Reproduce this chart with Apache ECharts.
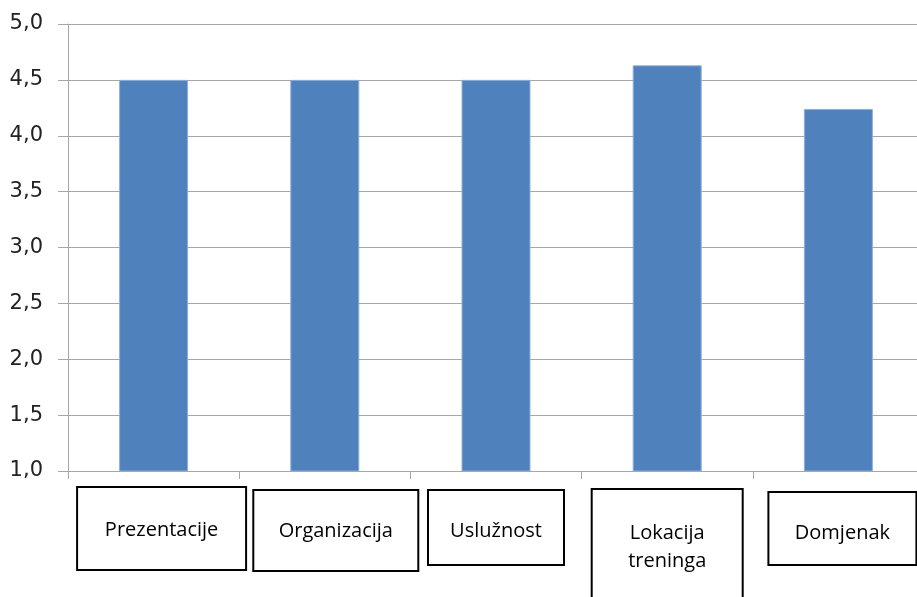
<!DOCTYPE html>
<html>
<head>
<meta charset="utf-8">
<script src="https://cdn.jsdelivr.net/npm/echarts@6/dist/echarts.min.js"></script>
<style>
html,body{margin:0;padding:0;background:#fff;}
#chart{width:917px;height:597px;}
</style>
</head>
<body>
<div id="chart"></div>
<script>
var categories = ['Prezentacije', 'Organizacija', 'Uslužnost', 'Lokacija\ntreninga', 'Domjenak'];
var values = [4.5, 4.5, 4.5, 4.63, 4.24];
var yMin = 1, yMax = 5, yStep = 0.5;

var catFont = '"Open Sans", sans-serif';
function boxStyle(w, lh, pt, pb) {
  return {
    fontFamily: catFont, fontSize: 20, color: '#000',
    width: w, lineHeight: lh, align: 'center',
    padding: [pt, 0, pb, 0],
    borderColor: '#000', borderWidth: 2
  };
}
var richStyles = {
  s0: {width: 16, fontSize: 10, lineHeight: 10},
  s1: {width: 22, fontSize: 10, lineHeight: 10},
  s4: {width: 8, fontSize: 10, lineHeight: 10},
  b0: boxStyle(169, 79, 33, 30),
  b1: boxStyle(165, 83, 31, 30),
  b2: boxStyle(136, 77, 31, 24),
  b4: boxStyle(148, 79, 31, 22)
};

var xData = categories.map(function (c, i) {
  if (i === 3) {
    return {
      value: c,
      textStyle: {
        fontFamily: catFont, fontSize: 20, color: '#000',
        width: 151, lineHeight: 28, align: 'center',
        padding: [30, 0, 27, 0],
        borderColor: '#000', borderWidth: 2
      }
    };
  }
  return c;
});

var chart = echarts.init(document.getElementById('chart'), null, {renderer: 'canvas'});
chart.setOption({
  animation: false,
  backgroundColor: '#fff',
  grid: {left: 68, right: -7, top: 24, bottom: 126, containLabel: false, outerBoundsMode: 'none'},
  xAxis: {
    type: 'category',
    data: xData,
    axisLine: {show: true, lineStyle: {color: '#A6A6A6', width: 1}},
    axisTick: {show: true, length: 8, lineStyle: {color: '#A6A6A6'}},
    axisLabel: {
      interval: 0,
      margin: 18,
      formatter: function (v, i) {
        if (i === 3) return v;
        var sp = (i === 0 ? '{s0| }' : i === 1 ? '{s1| }' : i === 4 ? '{s4| }' : '');
        return sp + '{b' + i + '|' + v + '}';
      },
      rich: richStyles
    }
  },
  yAxis: {
    type: 'value',
    min: yMin, max: yMax, interval: yStep,
    axisLine: {show: true, lineStyle: {color: '#A6A6A6', width: 1}},
    axisTick: {show: true, length: 10, lineStyle: {color: '#A6A6A6'}},
    splitLine: {show: true, lineStyle: {color: '#A6A6A6', width: 1}},
    axisLabel: {
      margin: 25,
      color: '#222',
      fontFamily: '"DejaVu Sans", sans-serif',
      fontSize: 21,
      formatter: function (v) { return v.toFixed(1).replace('.', ','); }
    }
  },
  series: [{
    type: 'bar',
    data: values,
    barWidth: 69,
    itemStyle: {color: '#4F81BD', borderColor: '#8FAFD8', borderWidth: 1}
  }]
});
</script>
</body>
</html>
